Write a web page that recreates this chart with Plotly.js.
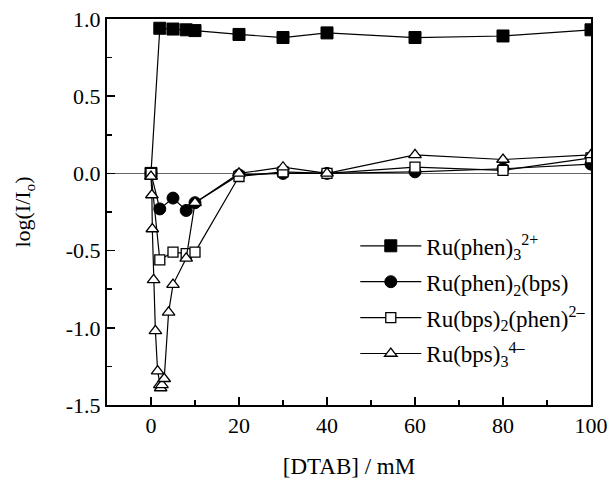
<!DOCTYPE html>
<html>
<head>
<meta charset="utf-8">
<script src="https://cdn.plot.ly/plotly-3.0.1.min.js"></script>
<style>html,body{margin:0;padding:0;background:#fff}#chart{width:610px;height:479px}</style>
</head>
<body>
<div id="chart"></div>
<script>
// Data
const x1 = [0, 2, 5, 8, 10, 20, 30, 40, 60, 80, 100];
const y1 = [0, 0.94, 0.935, 0.93, 0.925, 0.90, 0.88, 0.91, 0.88, 0.89, 0.93];

const x2 = [0, 2, 5, 8, 10, 20, 30, 40, 60, 80, 100];
const y2 = [0, -0.23, -0.16, -0.24, -0.19, -0.01, 0.0, 0.0, 0.01, 0.03, 0.06];

const x3 = [0, 2, 5, 8, 10, 20, 30, 40, 60, 80, 100];
const y3 = [0, -0.56, -0.51, -0.52, -0.51, -0.02, 0.01, 0.0, 0.04, 0.02, 0.10];

const x4 = [0, 0.2, 0.3, 0.6, 1.0, 1.5, 2.0, 2.2, 2.5, 3.0, 4.0, 5.0, 8.0, 10, 20, 30, 40, 60, 80, 100];
const y4 = [-0.02, -0.14, -0.36, -0.69, -1.02, -1.28, -1.37, -1.39, -1.37, -1.33, -0.90, -0.72, -0.55, -0.19, 0.0, 0.04, 0.0, 0.12, 0.09, 0.12];

const names = [
  'Ru(phen)<sub>3</sub><sup>2+</sup>',
  'Ru(phen)<sub>2</sub>(bps)',
  'Ru(bps)<sub>2</sub>(phen)<sup>2\u2013</sup>',
  'Ru(bps)<sub>3</sub><sup>4\u2013</sup>'
];

const yTickVals = [-1.5, -1.0, -0.5, 0.0, 0.5, 1.0];
const yTickText = ['-1.5', '-1.0', '-0.5', '0.0', '0.5', '1.0'];
const xTickVals = [0, 20, 40, 60, 80, 100];
const xTickText = ['0', '20', '40', '60', '80', '100'];

const lineStyle = {color: '#000', width: 1.2};
const traces = [
  {x: x1, y: y1, name: names[0], legendgroup: 'a', mode: 'lines+markers', line: lineStyle,
   marker: {symbol: 'square', size: 12, color: '#000', line: {color: '#000', width: 1}}},
  {x: x2, y: y2, name: names[1], legendgroup: 'b', mode: 'lines+markers', line: lineStyle,
   marker: {symbol: 'circle', size: 12, color: '#000', line: {color: '#000', width: 1}}},
  {x: x3, y: y3, name: names[2], legendgroup: 'c', mode: 'lines+markers', line: lineStyle,
   marker: {symbol: 'square', size: 10, color: '#fff', line: {color: '#000', width: 1.3}}},
  {x: x4, y: y4, name: names[3], legendgroup: 'd', mode: 'lines+markers', line: lineStyle,
   marker: {symbol: 'triangle-up', size: 11, color: '#fff', line: {color: '#000', width: 1.3}}}
];

const font = {family: '"Liberation Serif", "Times New Roman", serif', color: '#000'};

const layout = {
  width: 610, height: 479,
  margin: {l: 107, r: 19, t: 19, b: 74},
  paper_bgcolor: '#fff', plot_bgcolor: '#fff',
  font: Object.assign({size: 21}, font),
  showlegend: true,
  legend: {
    x: 0.513, y: 0.468, xanchor: 'left', yanchor: 'top',
    bgcolor: 'rgba(0,0,0,0)', borderwidth: 0,
    font: Object.assign({size: 23}, font),
    itemwidth: 61, tracegroupgap: 3
  },
  xaxis: {
    range: [-10, 100], showgrid: false, zeroline: false,
    showline: true, linecolor: '#000', linewidth: 2, mirror: true,
    tickmode: 'array', tickvals: xTickVals, ticktext: xTickText,
    ticks: 'inside', ticklen: 8, tickwidth: 1.5, tickcolor: '#000',
    minor: {ticks: 'inside', ticklen: 5, tickwidth: 1.5, tickcolor: '#000', dtick: 10, tick0: 0},
    tickfont: Object.assign({size: 22}, font),
    title: {text: '[DTAB] / mM', font: Object.assign({size: 23}, font), standoff: 28}
  },
  yaxis: {
    range: [-1.5, 1.0], showgrid: false,
    zeroline: true, zerolinecolor: '#666', zerolinewidth: 1,
    showline: true, linecolor: '#000', linewidth: 2, mirror: true,
    tickmode: 'array', tickvals: yTickVals, ticktext: yTickText,
    ticks: 'inside', ticklen: 8, tickwidth: 1.5, tickcolor: '#000',
    minor: {ticks: 'inside', ticklen: 5, tickwidth: 1.5, tickcolor: '#000', dtick: 0.25, tick0: 0},
    tickfont: Object.assign({size: 22}, font),
    title: {text: 'log(I/I<sub>o</sub>)', font: Object.assign({size: 22}, font), standoff: 29}
  }
};

Plotly.newPlot('chart', traces, layout, {displayModeBar: false, staticPlot: true});
</script>
</body>
</html>
